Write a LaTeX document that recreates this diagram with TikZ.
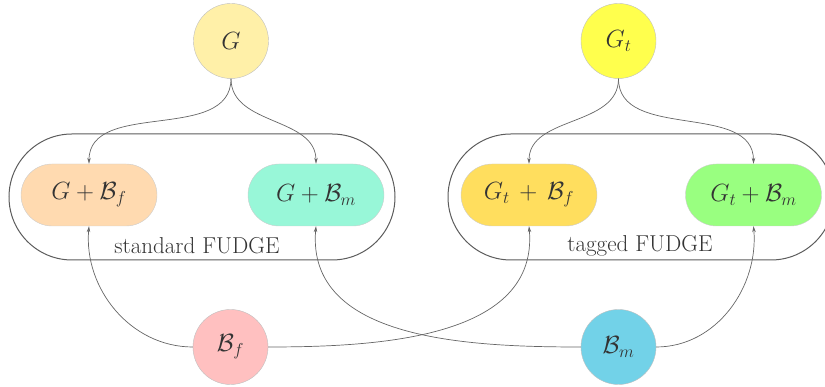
\documentclass[tikz,border=0pt]{standalone}
\usetikzlibrary{arrows.meta}
\definecolor{cG}{HTML}{FFF0A8}
\definecolor{cGt}{HTML}{FFFF4D}
\definecolor{cBf}{HTML}{FFC0C0}
\definecolor{cBm}{HTML}{72D2E8}
\definecolor{cGBf}{HTML}{FFDAB0}
\definecolor{cGBm}{HTML}{98F7D8}
\definecolor{cGtBf}{HTML}{FFDE5E}
\definecolor{cGtBm}{HTML}{99FF80}
\definecolor{txt}{HTML}{333333}
\definecolor{ln}{HTML}{666666}
\begin{document}
\begin{tikzpicture}[x=1pt,y=1pt,
  circ/.style={circle,draw=black!25,line width=0.4pt,minimum size=75pt,inner sep=0pt,text=txt,font=\fontsize{23}{27}\selectfont},
  pill/.style={rectangle,rounded corners=31pt,draw=black!20,line width=0.4pt,minimum width=136pt,minimum height=62pt,inner sep=0pt,text=txt,font=\fontsize{23.5}{28}\selectfont},
  container/.style={rectangle,rounded corners=63pt,draw=ln!90!black,line width=1pt,minimum width=386pt,minimum height=126pt,inner sep=0pt},
  lbl/.style={text=txt,font=\fontsize{23}{27}\selectfont,inner sep=0pt},
  arr/.style={draw=ln,line width=0.7pt,-{Stealth[length=6pt,width=3.5pt]}}
]
\useasboundingbox (0,0) rectangle (825,387);
\begin{scope}
\clip (0,0) rectangle (825,387);
\node[container] (L) at (202,190) {};
\node[container] (R) at (641,190) {};
\end{scope}
\node[lbl] (lblL) at (197,141) {standard FUDGE};
\node[lbl] (lblR) at (640,141) {tagged FUDGE};

\node[circ,fill=cG] (G) at (231,346) {$G$};
\node[circ,fill=cGt] (Gt) at (618.5,346) {$G_t$};
\node[circ,fill=cBf] (Bf) at (230.5,40) {$\mathcal{B}_f$};
\node[circ,fill=cBm] (Bm) at (618.5,40) {$\mathcal{B}_m$};

\node[pill,fill=cGBf] (GBf) at (89,192) {$G+\mathcal{B}_f$};
\node[pill,fill=cGBm] (GBm) at (316,192) {$G+\mathcal{B}_m$};
\node[pill,fill=cGtBf] (GtBf) at (529,192) {$G_t\,+\,\mathcal{B}_f$};
\node[pill,fill=cGtBm] (GtBm) at (753.5,192) {$G_t+\mathcal{B}_m$};

\draw[arr] (G.south) to[out=-90,in=90,looseness=1] (GBf.north);
\draw[arr] (G.south) to[out=-90,in=90,looseness=1] (GBm.north);
\draw[arr] (Gt.south) to[out=-90,in=90,looseness=1] (GtBf.north);
\draw[arr] (Gt.south) to[out=-90,in=90,looseness=1] (GtBm.north);

\draw[arr] (Bf.west) to[out=180,in=-95,looseness=1] (GBf.south);
\draw[arr] (Bf.east) to[out=0,in=-85,looseness=1] (GtBf.south);
\draw[arr] (Bm.west) to[out=180,in=-95,looseness=1] (GBm.south);
\draw[arr] (Bm.east) to[out=0,in=-85,looseness=1] (GtBm.south);
\end{tikzpicture}
\end{document}
